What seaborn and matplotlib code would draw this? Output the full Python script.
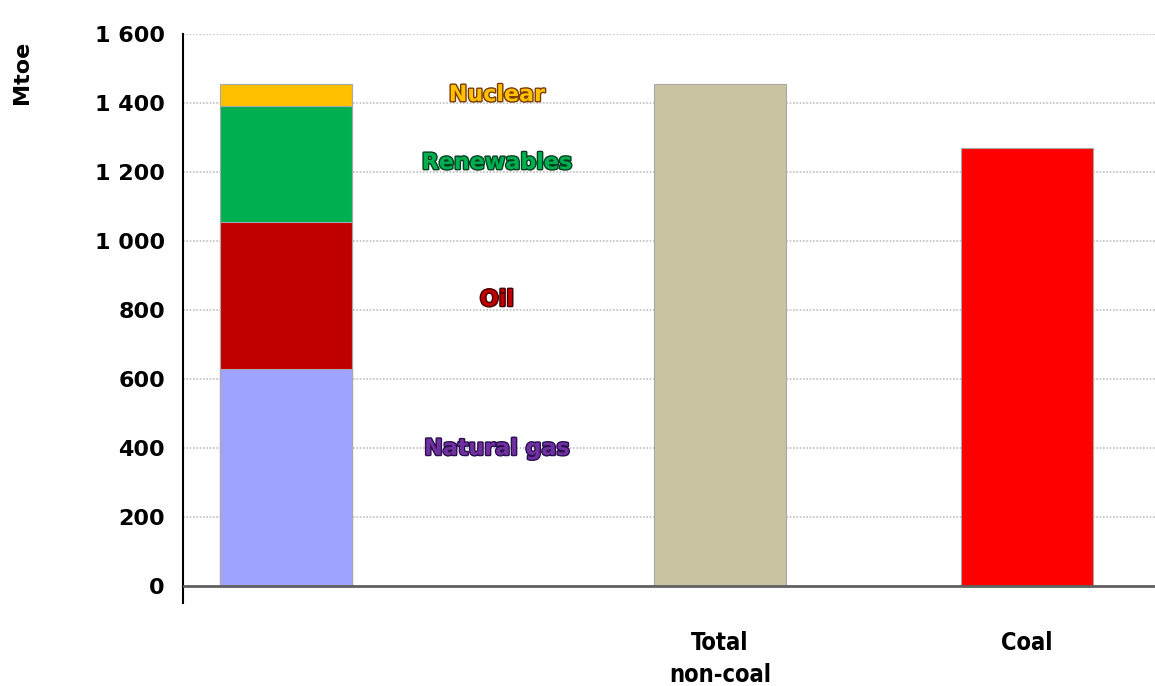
import pandas as pd
import seaborn as sns
import matplotlib.pyplot as plt
import matplotlib.patheffects as pe

# Mtoe
sources = ["Natural gas", "Oil", "Renewables", "Nuclear"]
source_mtoe = [630, 425, 336, 64]
totals = ["Total\nnon-coal", "Coal"]
total_mtoe = [1455, 1270]
y_ticks = [0, 200, 400, 600, 800, 1000, 1200, 1400, 1600]
y_tick_labels = ["0", "200", "400", "600", "800", "1 000", "1 200", "1 400", "1 600"]

# layout: bar centres (in axis units) and label placement
bar_x = [2.86, 7.20, 10.27]
label_x = 4.97
label_y = [397, 829, 1226, 1423]

fill_colors = {"Natural gas": "#A0A2FF", "Oil": "#C00000", "Renewables": "#00B050",
               "Nuclear": "#FFC000", "Total\nnon-coal": "#C8C3A0", "Coal": "#FF0000"}
text_colors = {"Natural gas": "#7030A0", "Oil": "#C00000", "Renewables": "#00B050",
               "Nuclear": "#FFC000"}
shadow_colors = {"Natural gas": "#2A1050", "Oil": "#400000", "Renewables": "#004020",
                 "Nuclear": "#7A3A00"}


def build_frame():
    rows = []
    # stacked bar drawn top layer first, each as cumulative height
    cum = pd.Series(source_mtoe, index=sources).cumsum()
    for name in reversed(sources):
        rows.append({"x": bar_x[0], "layer": name, "mtoe": cum[name]})
    for name, val, x in zip(totals, total_mtoe, bar_x[1:]):
        rows.append({"x": x, "layer": name, "mtoe": val})
    return pd.DataFrame(rows)


def main():
    sns.set_style("white")
    plt.rcParams["font.family"] = ["DejaVu Sans"]
    plt.rcParams["text.color"] = "black"
    plt.rcParams["xtick.color"] = "black"
    plt.rcParams["ytick.color"] = "black"

    data = build_frame()
    fig = plt.figure(figsize=(11.55, 6.86), dpi=100)
    ax = fig.add_axes([0.1584, 0.121, 0.8416, 0.8294])

    ax.yaxis.grid(True, linestyle=(0, (1, 1)), color="#c0c0c0", linewidth=1.2)
    ax.set_axisbelow(True)

    sns.barplot(data=data, x="x", y="mtoe", hue="layer",
                hue_order=list(data["layer"]), palette=fill_colors, saturation=1,
                native_scale=True, dodge=False, width=0.43, errorbar=None,
                edgecolor="#a8a8a8", linewidth=0.8, legend=False, ax=ax)

    ax.axhline(0, color="#606060", linewidth=2, zorder=3)

    ax.set_xlim(1.83, 11.55)
    ax.set_ylim(-50, 1600)
    ax.set_yticks(y_ticks)
    ax.set_yticklabels(y_tick_labels, fontsize=16, fontweight="bold")
    ax.set_xticks(bar_x)
    ax.set_xticklabels([""] + totals, fontsize=17, fontweight="bold",
                       fontstretch="condensed", linespacing=1.45, va="top")
    ax.tick_params(axis="x", length=0, pad=20)
    ax.tick_params(axis="y", length=9, width=1.5, color="black", pad=4)
    ax.set_xlabel("")
    ax.set_ylabel("")

    for side in ["top", "right", "bottom"]:
        ax.spines[side].set_visible(False)
    ax.spines["left"].set_color("black")
    ax.spines["left"].set_linewidth(1.5)

    for name, y in zip(sources, label_y):
        ax.text(label_x, y, name, ha="center", va="center", fontsize=16,
                fontweight="bold", color=text_colors[name],
                path_effects=[pe.withStroke(linewidth=2, foreground=shadow_colors[name])])

    fig.text(0.019, 0.895, "Mtoe", rotation=90, ha="center", va="center",
             fontsize=16, fontweight="bold")

    fig.savefig("out.png", dpi=100)


if __name__ == "__main__":
    main()
